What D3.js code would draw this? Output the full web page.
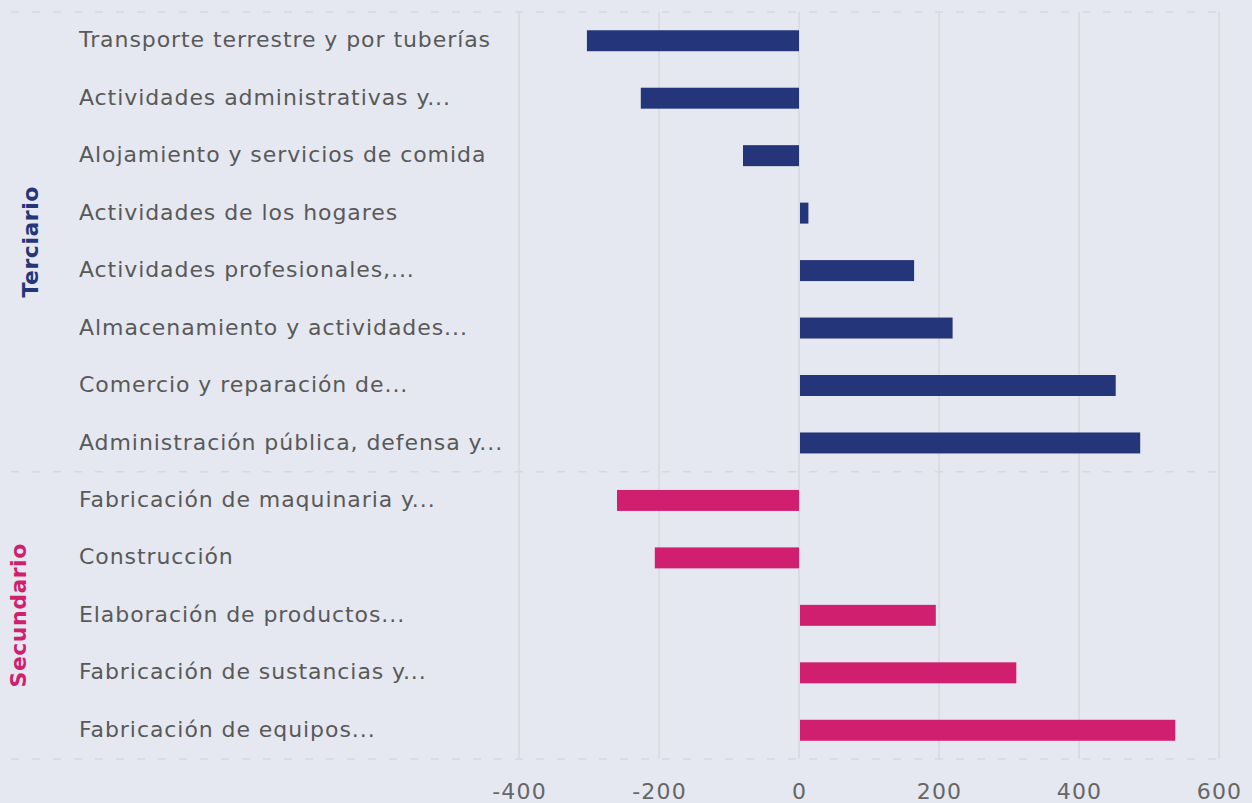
<!DOCTYPE html>
<html>
<head>
<meta charset="utf-8">
<script src="https://cdn.jsdelivr.net/npm/d3@7"></script>
<style>
  html, body { margin: 0; padding: 0; background: #e5e8f0; }
  svg { display: block; }
</style>
</head>
<body>
<svg id="chart" width="1252" height="803"></svg>
<script>
const categories = [
  "Transporte terrestre y por tuberías",
  "Actividades administrativas y...",
  "Alojamiento y servicios de comida",
  "Actividades de los hogares",
  "Actividades profesionales,...",
  "Almacenamiento y actividades...",
  "Comercio y reparación de...",
  "Administración pública, defensa y...",
  "Fabricación de maquinaria y...",
  "Construcción",
  "Elaboración de productos...",
  "Fabricación de sustancias y...",
  "Fabricación de equipos..."
];
const values = [-303, -226, -80, 12, 163, 218, 451, 486, -260, -206, 194, 309, 536];
const groups = ["Terciario", "Terciario", "Terciario", "Terciario", "Terciario", "Terciario", "Terciario", "Terciario",
                "Secundario", "Secundario", "Secundario", "Secundario", "Secundario"];
const groupNames = ["Terciario", "Secundario"];
const groupColors = ["#25357a", "#d11f6f"];
const tickValues = [-400, -200, 0, 200, 400, 600];

(function () {
const svg = d3.select("#chart");
const W = 1252, H = 803;
const plotTop = 12, plotBottom = 759;
const lineLeft = 11, plotRight = 1220;

const x = d3.scaleLinear().domain([-400, 600]).range([519, 1219]);
const y = d3.scaleBand().domain(d3.range(categories.length)).range([plotTop, plotBottom])
  .paddingInner(0.635).paddingOuter(0.3175);
const color = d3.scaleOrdinal().domain(groupNames).range(groupColors);

svg.append("rect").attr("width", W).attr("height", H).attr("fill", "#e5e8f0");

// vertical grid lines
svg.append("g").selectAll("line").data(tickValues).join("line")
  .attr("x1", d => x(d)).attr("x2", d => x(d))
  .attr("y1", plotTop).attr("y2", plotBottom)
  .attr("stroke", "#d6d8de").attr("stroke-width", 1.5);

// dashed group boundary lines
const boundaries = [0, 8, 13];
const bY = d => d === categories.length ? plotBottom : y(d) - y.step() * y.paddingInner() / 2;
svg.append("g").selectAll("line").data(boundaries).join("line")
  .attr("x1", lineLeft).attr("x2", plotRight)
  .attr("y1", bY).attr("y2", bY)
  .attr("stroke", "#d6d8de").attr("stroke-width", 1.5)
  .attr("stroke-dasharray", "8,13");

// bars
svg.append("g").selectAll("rect").data(values).join("rect")
  .attr("x", d => d >= 0 ? x(0) + 1 : x(d))
  .attr("width", d => Math.abs(x(d) - x(0)))
  .attr("y", (d, i) => y(i))
  .attr("height", y.bandwidth())
  .attr("fill", (d, i) => color(groups[i]));

// category labels
const labels = svg.append("g").selectAll("text").data(categories).join("text")
  .attr("x", 79)
  .attr("y", (d, i) => y(i) + y.bandwidth() / 2)
  .attr("dy", "0.3em")
  .attr("font-family", "'DejaVu Sans', sans-serif")
  .attr("font-size", 22)
  .attr("fill", "#595959")
  .text(d => d);
// fit the letter spacing so the longest reference label spans ~412px
const first = labels.node();
const w0 = first.getComputedTextLength();
const ls = Math.max(0, (412 - w0) / (categories[0].length));
labels.attr("letter-spacing", ls);

// group labels
const groupPos = groupNames.map(g => {
  const idx = d3.range(categories.length).filter(i => groups[i] === g);
  const y0 = bY(idx[0]);
  const y1 = bY(idx[idx.length - 1] + 1);
  return { g, mid: (y0 + y1) / 2 };
});
const groupX = { "Terciario": 30, "Secundario": 18 };
svg.append("g").selectAll("text").data(groupPos).join("text")
  .attr("transform", d => `translate(${groupX[d.g]},${d.mid}) rotate(-90)`)
  .attr("text-anchor", "middle")
  .attr("dy", "0.36em")
  .attr("font-family", "'DejaVu Sans', sans-serif")
  .attr("font-weight", "bold")
  .attr("font-size", 22)
  .attr("letter-spacing", 0.5)
  .attr("fill", d => color(d.g))
  .text(d => d.g);

// x axis
const xAxis = d3.axisBottom(x).tickValues(tickValues).tickSize(0).tickPadding(0)
  .tickFormat(d => String(d));
const ax = svg.append("g").attr("transform", `translate(0,${plotBottom})`).call(xAxis);
ax.select(".domain").remove();
ax.selectAll("text")
  .attr("y", 32)
  .attr("dy", "0.35em")
  .attr("font-family", "'DejaVu Sans', sans-serif")
  .attr("font-size", 22)
  .attr("letter-spacing", 1.2)
  .attr("fill", "#666666");
})();
</script>
</body>
</html>
